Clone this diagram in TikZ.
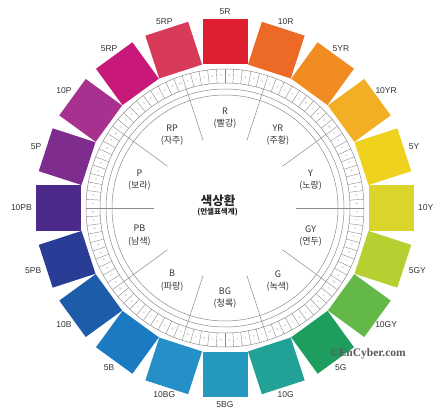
\documentclass[tikz,border=0pt]{standalone}
\usepackage{fontspec}
\setmainfont{Liberation Sans}
\newfontfamily\kr{Noto Sans CJK KR}
\newfontfamily\wm{Liberation Serif}
\definecolor{c0}{HTML}{DD1F2F}
\definecolor{c1}{HTML}{EC6A26}
\definecolor{c2}{HTML}{F08C22}
\definecolor{c3}{HTML}{F2AE24}
\definecolor{c4}{HTML}{EFD21E}
\definecolor{c5}{HTML}{DCD42A}
\definecolor{c6}{HTML}{B7CF30}
\definecolor{c7}{HTML}{64B848}
\definecolor{c8}{HTML}{1E9E5E}
\definecolor{c9}{HTML}{22A196}
\definecolor{c10}{HTML}{2598BE}
\definecolor{c11}{HTML}{2590C8}
\definecolor{c12}{HTML}{1B7AC2}
\definecolor{c13}{HTML}{1D5CA8}
\definecolor{c14}{HTML}{293C96}
\definecolor{c15}{HTML}{4B2A8C}
\definecolor{c16}{HTML}{7E2C8E}
\definecolor{c17}{HTML}{A8308E}
\definecolor{c18}{HTML}{C8187A}
\definecolor{c19}{HTML}{D83A5A}
\begin{document}
\begin{tikzpicture}[x=1pt,y=1pt,
  sq/.style={minimum size=45pt, inner sep=0pt, draw=none},
  hue/.style={font=\fontsize{8.5}{10}\selectfont, text=black!80, inner sep=1pt},
  ringline/.style={draw=black!45, line width=0.5pt},
  sec/.style={align=center, font=\kr\fontsize{9}{12.5}\selectfont, text=black!80},
  num/.style={font=\fontsize{2.6}{3}\selectfont, text=black!50, inner sep=0pt}]
\useasboundingbox (-225,-201) rectangle (210,208);
\fill[white] (-225,-201) rectangle (210,208);
% hue squares and their labels
\foreach \i/\lab in {0/5R,1/10R,2/5YR,3/10YR,4/5Y,5/10Y,6/5GY,7/10GY,8/5G,9/10G,10/5BG,11/10BG,12/5B,13/10B,14/5PB,15/10PB,16/5P,17/10P,18/5RP,19/5RP}{
  \pgfmathsetmacro\a{90-18*\i}
  \pgfmathtruncatemacro\b{mod(270-18*\i+360,360)}
  \node[sq, fill=c\i, rotate=-18*\i] (s\i) at (\a:166) {};
  \node[hue, anchor=\b] (l\i) at (\a:192) {\lab};
}
% ring
\draw[ringline] (0,0) circle (139);
\draw[ringline] (0,0) circle (125);
\draw[ringline] (0,0) circle (119);
\draw[ringline] (0,0) circle (113);
\foreach \k in {0,...,99}
  \draw[ringline, line width=0.4pt] (90-3.6*\k:125) -- (90-3.6*\k:139);
\foreach \s in {0,...,9}
  \foreach \j in {1,...,10}{
    \pgfmathsetmacro\p{108-36*\s-3.6*(\j-0.5)}
    \pgfmathsetmacro\r{18-36*\s-3.6*(\j-0.5)}
    \node[num, rotate=\r] (n\s-\j) at (\p:132) {\j};
  }
% sector boundaries
\foreach \k in {0,...,9}
  \draw[ringline] (72-36*\k:71) -- (72-36*\k:125);
% sector labels
\foreach \s/\h/\k in {0/R/빨강,1/YR/주황,2/Y/노랑,3/GY/연두,4/G/녹색,5/BG/청록,6/B/파랑,7/PB/남색,8/P/보라,9/RP/자주}{
  \node[sec] (h\s) at (90-36*\s:90) {\h\\(\k)};
}
% title
\node[font=\kr\bfseries\fontsize{12.5}{14}\selectfont, text=black!85] (title) at (-7,7) {색상환};
\node[font=\kr\bfseries\fontsize{7.5}{9}\selectfont, text=black!85] (subtitle) at (-7.5,-4.5) {(먼셀표색계)};
% watermark
\node[font=\wm\bfseries\fontsize{11.5}{13}\selectfont, text=black!65, anchor=west, inner sep=0pt] (wm) at (105,-146) {©EnCyber.com};
\end{tikzpicture}
\end{document}
